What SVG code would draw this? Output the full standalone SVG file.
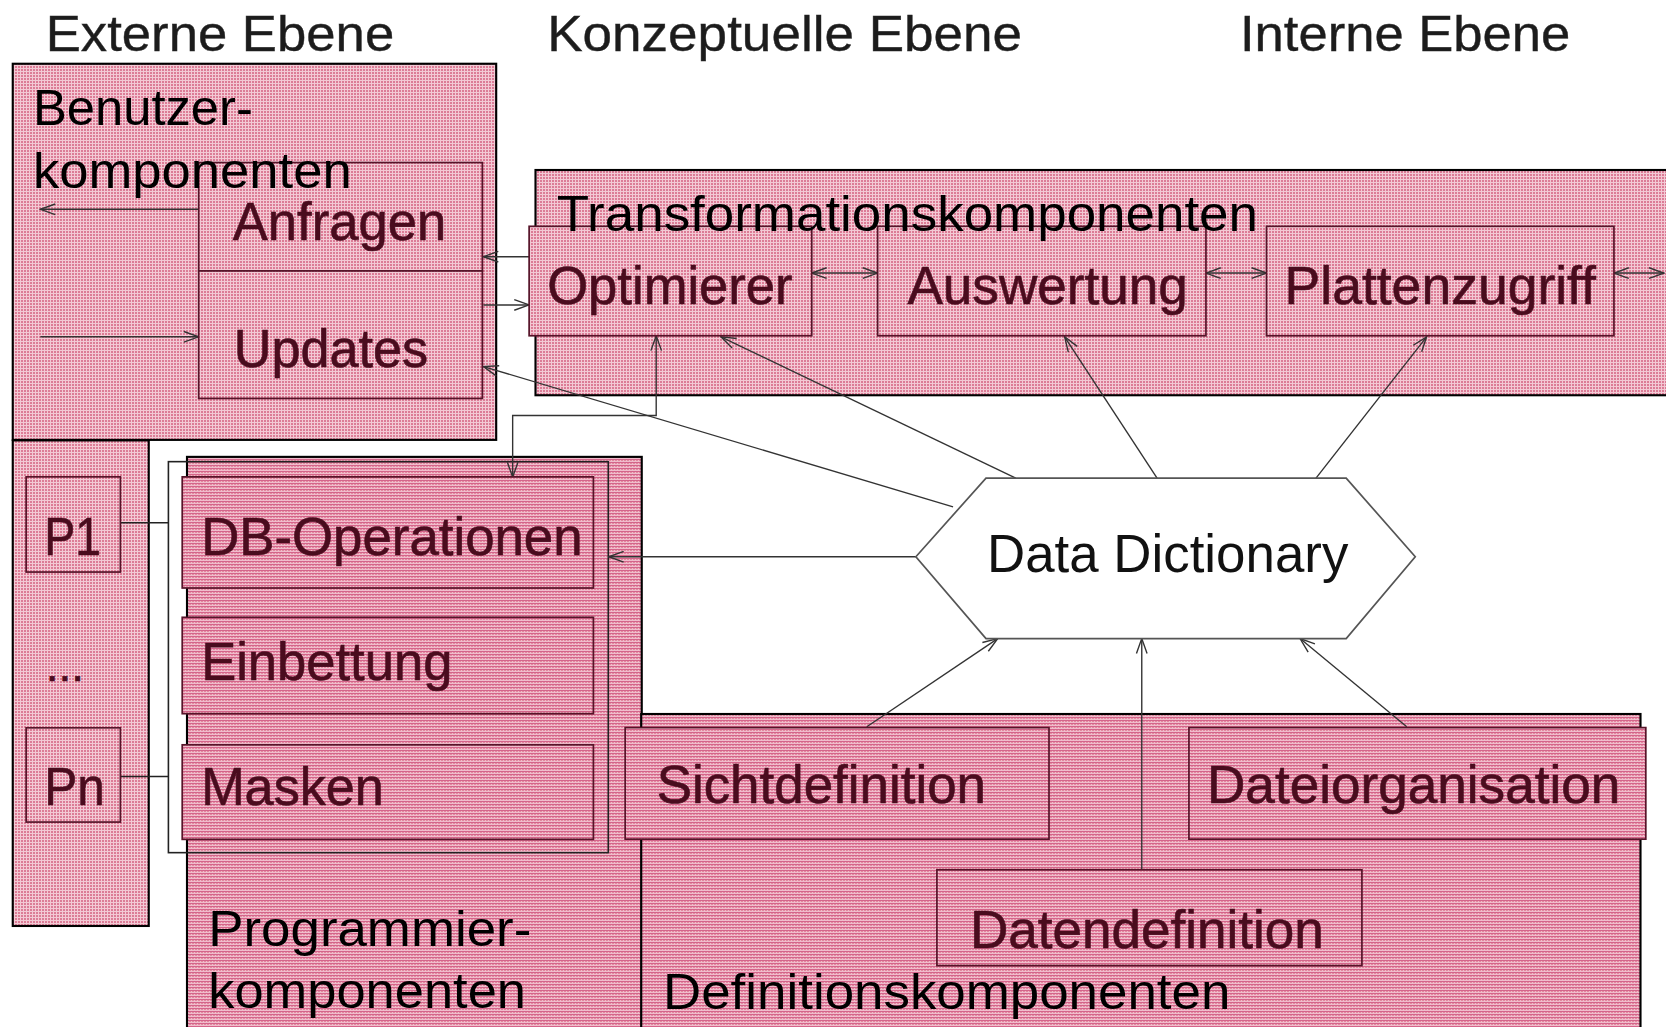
<svg xmlns="http://www.w3.org/2000/svg" width="1666" height="1027" viewBox="0 0 1666 1027">
<style>
text{font-family:"Liberation Sans",Arial,Helvetica,sans-serif}
.hdr{font-size:47px;fill:#1c1c1c;stroke:#2a2a2a;stroke-width:0.4}
.lbl{font-size:47px;fill:#000}
.nt{font-size:50px;fill:#4a0c1e;stroke:#4a0c1e;stroke-width:0.6}
.dd{font-size:51px;fill:#111}
.grpA{fill:url(#pa);stroke:#000;stroke-width:2}
.grpB{fill:url(#pb);stroke:#000;stroke-width:2}
.nbA{fill:url(#pa);stroke:#561429;stroke-width:1.6}
.nbB{fill:url(#pb);stroke:#561429;stroke-width:1.6}
.cn{fill:none;stroke:#333;stroke-width:1.3}
.br{fill:none;stroke:#222;stroke-width:1.5}
.ae{marker-end:url(#ah)}
.ab{marker-start:url(#ah);marker-end:url(#ah)}
</style>
<defs>
<pattern id="pa" width="3" height="3" patternUnits="userSpaceOnUse" patternTransform="scale(0.941176)">
<rect width="3" height="3" fill="#f3c9d4"/><rect width="2" height="2" fill="#dc7c96"/>
</pattern>
<pattern id="pb" width="3" height="3" patternUnits="userSpaceOnUse" patternTransform="scale(0.941176)">
<rect width="3" height="3" fill="#f0bccb"/><rect width="3" height="1" fill="#d4648a"/><rect x="0" y="1" width="2" height="1" fill="#e2899f"/>
</pattern>
<marker id="ah" viewBox="0 0 16 12" refX="15" refY="6" markerWidth="16" markerHeight="12" markerUnits="userSpaceOnUse" orient="auto-start-reverse">
<path d="M1,1 L15,6 L1,11" fill="none" stroke="#333" stroke-width="1.3"/>
</marker>
</defs>
<g transform="scale(1.0625)">
<g id="headers">
<text class="hdr" x="43" y="47.7" textLength="328" lengthAdjust="spacingAndGlyphs">Externe Ebene</text>
<text class="hdr" x="515" y="47.7" textLength="447" lengthAdjust="spacingAndGlyphs">Konzeptuelle Ebene</text>
<text class="hdr" x="1167" y="47.7" textLength="311" lengthAdjust="spacingAndGlyphs">Interne Ebene</text>
</g>
<g id="benutzerkomponenten-box"><rect class="grpA" x="12" y="60" width="455" height="354"/></g>
<g id="programme-box"><rect class="grpA" x="12" y="414.5" width="128" height="457"/></g>
<g id="transformationskomponenten-box"><rect class="grpA" x="504" y="160" width="1100" height="212"/></g>
<g id="programmierkomponenten-box"><rect class="grpB" x="176" y="430" width="428" height="600"/></g>
<g id="definitionskomponenten-box"><rect class="grpB" x="603.5" y="672" width="940.5" height="400"/></g>
<g id="programmier-frame"><rect class="br" x="158.5" y="434.5" width="414" height="368"/></g>
<g id="connectors">
<path class="cn ae" d="M187,197 H38"/>
<path class="cn ae" d="M38,317 H187"/>
<path class="cn ae" d="M498,241.6 H455"/>
<path class="cn ae" d="M455,287 H498"/>
<path class="cn ae" d="M897,477 L455,345"/>
<path class="cn ae" d="M956,450 L678.6,317"/>
<path class="cn ae" d="M1089,450 L1002,317"/>
<path class="cn ae" d="M1238.6,450 L1342.7,317"/>
<path class="cn ab" d="M764,257 H826"/>
<path class="cn ab" d="M1135,257 H1192"/>
<path class="cn ab" d="M1519,257 H1566"/>
<path class="cn ab" d="M617.6,316 V391 H482.5 V449"/>
<path class="cn ae" d="M862,524 H573"/>
<path class="cn ae" d="M815.8,684 L939,601"/>
<path class="cn ae" d="M1074.6,818.6 V601"/>
<path class="cn ae" d="M1324,684 L1223.6,601"/>
<path class="br" d="M113,492 H158.5"/>
<path class="br" d="M113,730.8 H158.5"/>
</g>
<g id="anfragen"><rect class="nbA" x="187" y="153" width="267" height="102"/><text class="nt" x="219" y="226" textLength="201" lengthAdjust="spacingAndGlyphs">Anfragen</text></g>
<g id="updates"><rect class="nbA" x="187" y="255" width="267" height="120"/><text class="nt" x="220" y="345" textLength="183" lengthAdjust="spacingAndGlyphs">Updates</text></g>
<g id="optimierer"><rect class="nbA" x="498" y="213" width="266" height="103"/><text class="nt" x="515" y="286" textLength="231" lengthAdjust="spacingAndGlyphs">Optimierer</text></g>
<g id="auswertung"><rect class="nbA" x="826" y="213" width="309" height="103"/><text class="nt" x="854" y="286" textLength="264" lengthAdjust="spacingAndGlyphs">Auswertung</text></g>
<g id="plattenzugriff"><rect class="nbA" x="1192" y="213" width="327" height="103"/><text class="nt" x="1209" y="286" textLength="293" lengthAdjust="spacingAndGlyphs">Plattenzugriff</text></g>
<g id="p1"><rect class="nbA" x="24.6" y="448.8" width="88.7" height="89.6"/><text class="nt" x="41.6" y="522" textLength="53.5" lengthAdjust="spacingAndGlyphs">P1</text></g>
<g id="dots"><text class="nt" x="43" y="641" textLength="36" lengthAdjust="spacingAndGlyphs" style="font-size:40px">...</text></g>
<g id="pn"><rect class="nbA" x="24.6" y="685" width="88.7" height="88.7"/><text class="nt" x="41.6" y="757.7" textLength="57" lengthAdjust="spacingAndGlyphs">Pn</text></g>
<g id="db-operationen"><rect class="nbB" x="171.5" y="448.8" width="387" height="104.6"/><text class="nt" x="189.3" y="522.4" textLength="359" lengthAdjust="spacingAndGlyphs">DB-Operationen</text></g>
<g id="einbettung"><rect class="nbB" x="171.5" y="581" width="387" height="90.7"/><text class="nt" x="189.3" y="640" textLength="236.5" lengthAdjust="spacingAndGlyphs">Einbettung</text></g>
<g id="masken"><rect class="nbB" x="171.5" y="701" width="387" height="89"/><text class="nt" x="189.3" y="757.7" textLength="172" lengthAdjust="spacingAndGlyphs">Masken</text></g>
<g id="data-dictionary"><polygon points="862,524 928,450 1267,450 1332,524 1267,601 928,601" fill="#fff" stroke="#555" stroke-width="1.6"/><text class="dd" x="929" y="538" textLength="340" lengthAdjust="spacingAndGlyphs">Data Dictionary</text></g>
<g id="sichtdefinition"><rect class="nbB" x="588.4" y="684.8" width="398.9" height="105"/><text class="nt" x="618" y="756" textLength="310" lengthAdjust="spacingAndGlyphs">Sichtdefinition</text></g>
<g id="dateiorganisation"><rect class="nbB" x="1119" y="684.8" width="430" height="105"/><text class="nt" x="1136" y="756" textLength="389" lengthAdjust="spacingAndGlyphs">Dateiorganisation</text></g>
<g id="datendefinition"><rect class="nbB" x="881.8" y="818.6" width="400" height="90.2"/><text class="nt" x="913" y="892" textLength="333" lengthAdjust="spacingAndGlyphs">Datendefinition</text></g>
<g id="labels">
<text class="lbl" x="31" y="118" textLength="207" lengthAdjust="spacingAndGlyphs">Benutzer-</text>
<text class="lbl" x="31" y="177" textLength="300" lengthAdjust="spacingAndGlyphs">komponenten</text>
<text class="lbl" x="524" y="217.4" textLength="660" lengthAdjust="spacingAndGlyphs">Transformationskomponenten</text>
<text class="lbl" x="196" y="890" textLength="304" lengthAdjust="spacingAndGlyphs">Programmier-</text>
<text class="lbl" x="196" y="949" textLength="299" lengthAdjust="spacingAndGlyphs">komponenten</text>
<text class="lbl" x="624" y="950" textLength="534" lengthAdjust="spacingAndGlyphs">Definitionskomponenten</text>
</g>
</g>
</svg>
